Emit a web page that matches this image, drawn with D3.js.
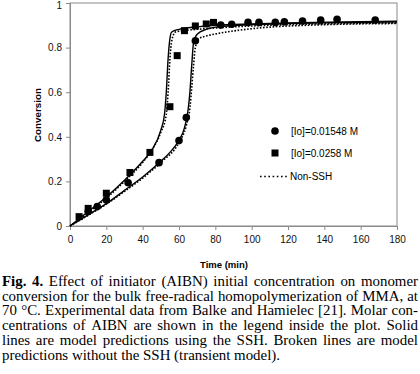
<!DOCTYPE html>
<html><head><meta charset="utf-8">
<script src="https://cdn.jsdelivr.net/npm/d3@7"></script>
<style>body{margin:0;background:#fff}svg{display:block}</style>
</head><body><svg id="c" width="420" height="374"></svg>
<script>
// ---- data ----
const xTicks = [0,20,40,60,80,100,120,140,160,180];
const yTicks = [0,0.2,0.4,0.6,0.8,1];
const yTickLabels = ["0","0.2","0.4","0.6","0.8","1"];
// experimental, [Io]=0.01548 M (circles)
const circleTime = [10,15,20,32,49,60,64,69,83,89,98,104,113,118,128,138,147,168];
const circleConv = [0.065,0.087,0.117,0.194,0.284,0.383,0.486,0.831,0.901,0.905,0.913,0.913,0.913,0.916,0.919,0.924,0.927,0.924];
// experimental, [Io]=0.0258 M (squares)
const squareTime = [5,10,20,33,44,55,59,63,69,75,79];
const squareConv = [0.042,0.079,0.147,0.24,0.33,0.535,0.764,0.876,0.897,0.906,0.913];
// model, SSH (solid)
const ssh1Time = [0,10,20,30,40,50,55,60,63,65,66,67,68,70,75,80,100,120,150,180];
const ssh1Conv = [0,0.05,0.1,0.16,0.22,0.29,0.33,0.385,0.44,0.52,0.6,0.72,0.82,0.86,0.882,0.892,0.903,0.908,0.912,0.916];
const ssh2Time = [0,10,20,30,40,45,50,52,53,54,55,56,60,70,80,100,120,150,180];
const ssh2Conv = [0,0.065,0.13,0.205,0.29,0.34,0.43,0.5,0.6,0.75,0.84,0.87,0.882,0.893,0.9,0.906,0.91,0.915,0.918];
// model, Non-SSH (dotted)
const non1Time = [0,10,20,30,40,50,60,64,66,67,68,69,71,75,82,95,110,130,150,180];
const non1Conv = [0,0.048,0.098,0.155,0.215,0.285,0.375,0.45,0.53,0.62,0.72,0.8,0.84,0.852,0.864,0.88,0.892,0.9,0.905,0.908];
const non2Time = [0,10,20,30,40,45,50,53,54,55,56,58,62,70,80,100,120,150,180];
const non2Conv = [0,0.06,0.125,0.2,0.285,0.34,0.42,0.5,0.6,0.75,0.83,0.87,0.876,0.882,0.888,0.897,0.903,0.908,0.911];
const legendLabels = ["[Io]=0.01548 M","[Io]=0.0258 M","Non-SSH"];
const captionLines = [
 "Fig. 4. Effect of initiator (AIBN) initial concentration on monomer",
 "conversion for the bulk free-radical homopolymerization of MMA, at",
 "70 °C. Experimental data from Balke and Hamielec [21]. Molar con-",
 "centrations of AIBN are shown in the legend inside the plot. Solid",
 "lines are model predictions using the SSH. Broken lines are model",
 "predictions without the SSH (transient model)."
];

// ---- chart ----
const svg = d3.select("#c");
const L=70,R=397,T=3,B=226;
const x = d3.scaleLinear().domain([0,180]).range([L,R]);
const y = d3.scaleLinear().domain([0,1]).range([B,T]);
const axisCol="#8a8a8a";
const sans="'Liberation Sans', Arial, sans-serif";

// frame
svg.append("rect").attr("x",L).attr("y",T).attr("width",R-L).attr("height",B-T)
  .attr("fill","none").attr("stroke",axisCol).attr("stroke-width",1);

const ya = svg.append("g").attr("transform",`translate(${L},0)`)
  .call(d3.axisLeft(y).tickValues(yTicks).tickSize(4).tickPadding(4).tickFormat((d,i)=>yTickLabels[i]));
const xa = svg.append("g").attr("transform",`translate(0,${B})`)
  .call(d3.axisBottom(x).tickValues(xTicks).tickSize(4).tickPadding(6).tickFormat(d3.format("d")));
[ya,xa].forEach(a=>{
  a.select(".domain").attr("stroke",axisCol);
  a.selectAll(".tick line").attr("stroke",axisCol);
  a.selectAll("text").attr("font-family",sans).attr("font-size",10).attr("fill","#111");
});
ya.selectAll(".tick text").filter(d=>d===1).attr("dy","0.55em");

svg.append("text").attr("transform","translate(41,115) rotate(-90)")
  .attr("text-anchor","middle").attr("font-family",sans).attr("font-weight","bold")
  .attr("font-size",9.8).text("Conversion");
svg.append("text").attr("x",224).attr("y",268).attr("text-anchor","middle")
  .attr("font-family",sans).attr("font-weight","bold").attr("font-size",9.5).text("Time (min)");

// curves
const line = d3.line().x(d=>x(d[0])).y(d=>y(d[1])).curve(d3.curveMonotoneX);
const zip=(a,b)=>a.map((v,i)=>[v,b[i]]);
const plotG = svg.append("g");
[[ssh1Time,ssh1Conv],[ssh2Time,ssh2Conv]].forEach(([a,b])=>{
  plotG.append("path").attr("d",line(zip(a,b))).attr("fill","none").attr("stroke","#000").attr("stroke-width",1.4);
});
[[non1Time,non1Conv],[non2Time,non2Conv]].forEach(([a,b])=>{
  plotG.append("path").attr("d",line(zip(a,b))).attr("fill","none").attr("stroke","#000")
    .attr("stroke-width",1.6).attr("stroke-dasharray","1.6,1.6");
});
// points
plotG.selectAll("circle.pt").data(zip(circleTime,circleConv)).join("circle")
  .attr("cx",d=>x(d[0])).attr("cy",d=>y(d[1])).attr("r",3.8).attr("fill","#000");
const s=7;
plotG.selectAll("rect.pt").data(zip(squareTime,squareConv)).join("rect")
  .attr("x",d=>x(d[0])-s/2).attr("y",d=>y(d[1])-s/2).attr("width",s).attr("height",s).attr("fill","#000");

// legend
const lg = svg.append("g").attr("font-family",sans).attr("font-size",10);
lg.append("circle").attr("cx",275).attr("cy",131).attr("r",3.8).attr("fill","#000");
lg.append("rect").attr("x",275-3.5).attr("y",153-3.5).attr("width",7).attr("height",7).attr("fill","#000");
lg.append("line").attr("x1",260).attr("x2",288).attr("y1",176.5).attr("y2",176.5)
  .attr("stroke","#000").attr("stroke-width",1.4).attr("stroke-dasharray","1.6,2.6");
[[131],[153],[176]].forEach((p,i)=>{
  lg.append("text").attr("x",i==2?290:291).attr("y",p[0]).attr("dy","0.35em").text(legendLabels[i]);
});

// caption, justified
const serif="'Liberation Serif','Times New Roman',serif";
const fs=14.9, lh=14.7, y0=286, left=2, right=418;
captionLines.forEach((ln,li)=>{
  const words = ln.split(" ");
  const t = svg.append("text").attr("font-family",serif).attr("font-size",fs).attr("fill","#000");
  const spans = words.map((w,wi)=>{
    const sp = t.append("tspan").attr("y",y0+li*lh).text(w);
    if(li===0 && wi<2) sp.attr("font-weight","bold");
    return sp;
  });
  const widths = spans.map(sp=>sp.node().getComputedTextLength());
  const total = d3.sum(widths);
  const last = li===captionLines.length-1;
  const gap = last ? fs*0.25 : (right-left-total)/(words.length-1);
  let cx=left;
  spans.forEach((sp,i)=>{ sp.attr("x",cx); cx+=widths[i]+gap; });
});
</script></body></html>
